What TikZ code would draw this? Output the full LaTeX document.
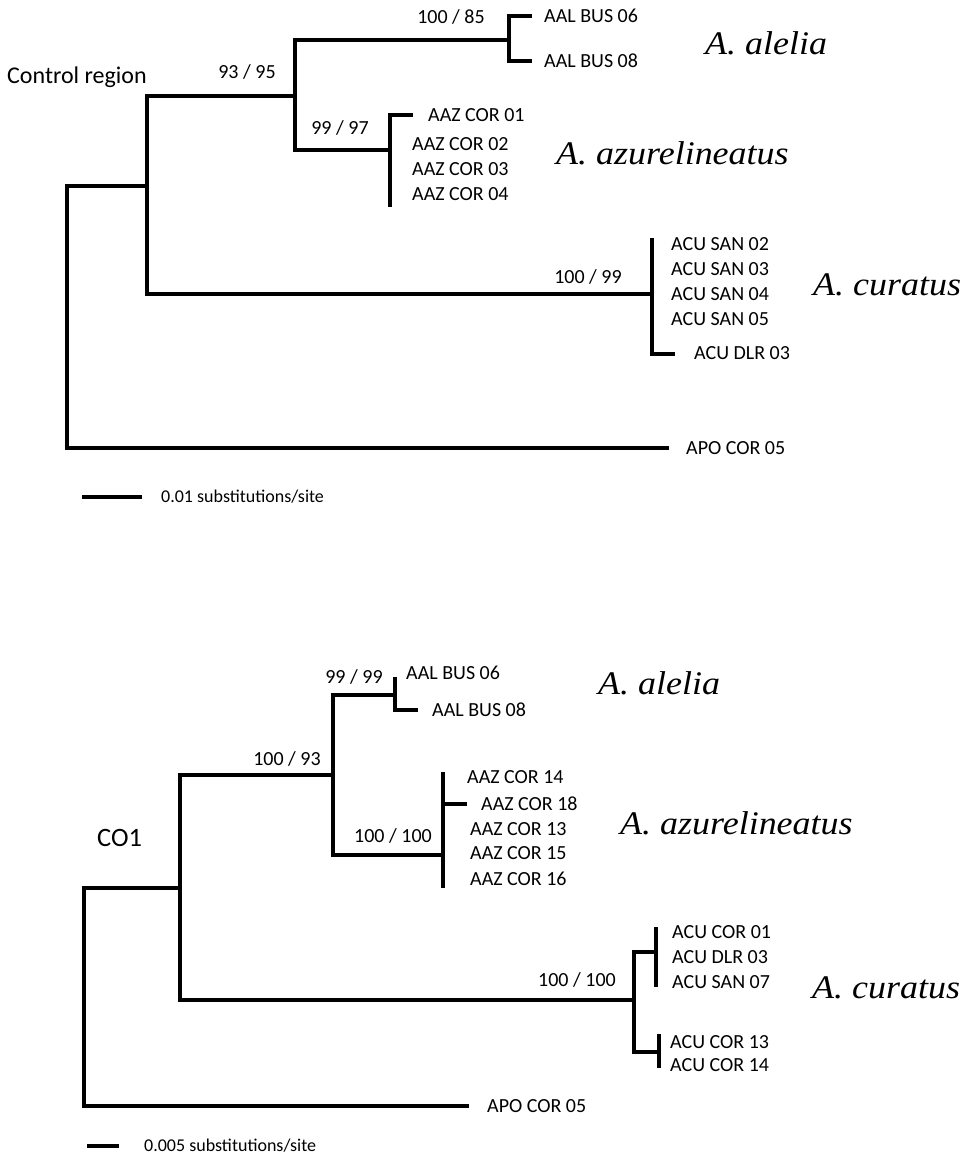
\documentclass[tikz,border=0pt]{standalone}
\usepackage{fontspec}
\usepackage{graphicx}
\setmainfont{Carlito}
\newfontfamily\spfont{Liberation Serif}
\begin{document}
\begin{tikzpicture}[x=1pt,y=-1pt,
  br/.style={line width=4pt},
  leaf/.style={anchor=west, inner sep=0pt, font=\fontsize{20}{24}\selectfont},
  boot/.style={inner sep=0pt, font=\fontsize{20}{24}\selectfont},
  species/.style={anchor=west, inner sep=0pt, font=\spfont\itshape\fontsize{33}{38}\selectfont},
  scaletxt/.style={anchor=west, inner sep=0pt, font=\fontsize{18}{22}\selectfont},
  title/.style={anchor=west, inner sep=0pt}]
\useasboundingbox[fill=white] (0,0) rectangle (972,1157);

% ---------- Control region tree ----------
\coordinate (R1) at (67,300);
\coordinate (N1) at (147,186);
\coordinate (Ta) at (669,448);
\coordinate (N2) at (295,96);
\coordinate (N3) at (652,294);
\coordinate (N4) at (509,40);
\coordinate (N5) at (390,150);
\coordinate (L1) at (532,16);
\coordinate (L2) at (532,61);
\coordinate (L3) at (413,115);
\coordinate (L4) at (390,207);
\coordinate (L5) at (652,238);
\coordinate (L6) at (675,354);

\draw[br] (R1) |- (N1);
\draw[br] (R1) |- (Ta);
\draw[br] (N1) |- (N2);
\draw[br] (N1) |- (N3);
\draw[br] (N2) |- (N4);
\draw[br] (N2) |- (N5);
\draw[br] (N4) |- (L1);
\draw[br] (N4) |- (L2);
\draw[br] (N5) |- (L3);
\draw[br] (N5) |- (L4);
\draw[br] (N3) |- (L5);
\draw[br] (N3) |- (L6);

\node[title, font=\fontsize{24}{28}\selectfont] (crt) at (7,77) {Control region};
\node[boot] (b1) at (247,72) {93 / 95};
\node[boot] (b2) at (451,17) {100 / 85};
\node[boot] (b3) at (340,128) {99 / 97};
\node[boot] (b4) at (588,277) {100 / 99};

\node[leaf] (a1) at (544,16) {AAL BUS 06};
\node[leaf] (a2) at (544,61) {AAL BUS 08};
\node[leaf] (a3) at (428,115) {AAZ COR 01};
\node[leaf] (a4) at (412,144) {AAZ COR 02};
\node[leaf] (a5) at (412,169) {AAZ COR 03};
\node[leaf] (a6) at (412,194) {AAZ COR 04};
\node[leaf] (a7) at (671,244) {ACU SAN 02};
\node[leaf] (a8) at (671,269) {ACU SAN 03};
\node[leaf] (a9) at (671,294) {ACU SAN 04};
\node[leaf] (a10) at (671,319) {ACU SAN 05};
\node[leaf] (a11) at (694,353) {ACU DLR 03};
\node[leaf] (a12) at (686,448) {APO COR 05};

\node[species] (s1) at (705,43) {\scalebox{1.09}[1]{A. alelia}};
\node[species] (s2) at (556,153) {\scalebox{1.09}[1]{A. azurelineatus}};
\node[species] (s3) at (813,285) {\scalebox{1.09}[1]{A. curatus}};

\coordinate (S1a) at (82,497);
\coordinate (S1b) at (142,497);
\draw[br] (S1a) -- (S1b);
\node[scaletxt] (sc1) at (161,497) {0.01 substitutions/site};

% ---------- CO1 tree ----------
\coordinate (R2) at (84,1000);
\coordinate (N6) at (180,888);
\coordinate (Tb) at (469,1106);
\coordinate (N7) at (333,775);
\coordinate (N8) at (634,1000);
\coordinate (N9) at (395,695);
\coordinate (N10) at (443,855);
\coordinate (M1) at (395,677);
\coordinate (M2) at (418,710);
\coordinate (M3) at (443,772);
\coordinate (M4) at (467,804);
\coordinate (M5) at (443,888);
\coordinate (N11) at (656,952);
\coordinate (N12) at (659,1052);
\coordinate (M6) at (656,927);
\coordinate (M7) at (656,987);
\coordinate (M8) at (659,1034);
\coordinate (M9) at (659,1068);

\draw[br] (R2) |- (N6);
\draw[br] (R2) |- (Tb);
\draw[br] (N6) |- (N7);
\draw[br] (N6) |- (N8);
\draw[br] (N7) |- (N9);
\draw[br] (N7) |- (N10);
\draw[br] (N9) |- (M1);
\draw[br] (N9) |- (M2);
\draw[br] (N10) |- (M3);
\draw[br] (N10) |- (M4);
\draw[br] (N10) |- (M5);
\draw[br] (N8) |- (N11);
\draw[br] (N8) |- (N12);
\draw[br] (N11) |- (M6);
\draw[br] (N11) |- (M7);
\draw[br] (N12) |- (M8);
\draw[br] (N12) |- (M9);

\node[title, font=\fontsize{26.5}{30}\selectfont] (cot) at (97,838) {CO1};
\node[boot] (c1) at (354,677) {99 / 99};
\node[boot] (c2) at (287,759) {100 / 93};
\node[boot] (c3) at (393,836) {100 / 100};
\node[boot] (c4) at (577,980) {100 / 100};

\node[leaf] (d1) at (406,673) {AAL BUS 06};
\node[leaf] (d2) at (432,710) {AAL BUS 08};
\node[leaf] (d3) at (467,777) {AAZ COR 14};
\node[leaf] (d4) at (481,804) {AAZ COR 18};
\node[leaf] (d5) at (470,829) {AAZ COR 13};
\node[leaf] (d6) at (470,853) {AAZ COR 15};
\node[leaf] (d7) at (470,879) {AAZ COR 16};
\node[leaf] (d8) at (672,932) {ACU COR 01};
\node[leaf] (d9) at (672,957) {ACU DLR 03};
\node[leaf] (d10) at (672,982) {ACU SAN 07};
\node[leaf] (d11) at (670,1042) {ACU COR 13};
\node[leaf] (d12) at (670,1065) {ACU COR 14};
\node[leaf] (d13) at (487,1106) {APO COR 05};

\node[species] (t1) at (598,683) {\scalebox{1.09}[1]{A. alelia}};
\node[species] (t2) at (620,823) {\scalebox{1.09}[1]{A. azurelineatus}};
\node[species] (t3) at (812,988) {\scalebox{1.09}[1]{A. curatus}};

\coordinate (S2a) at (87,1146);
\coordinate (S2b) at (119,1146);
\draw[br] (S2a) -- (S2b);
\node[scaletxt] (sc2) at (144,1146) {0.005 substitutions/site};
\end{tikzpicture}
\end{document}
